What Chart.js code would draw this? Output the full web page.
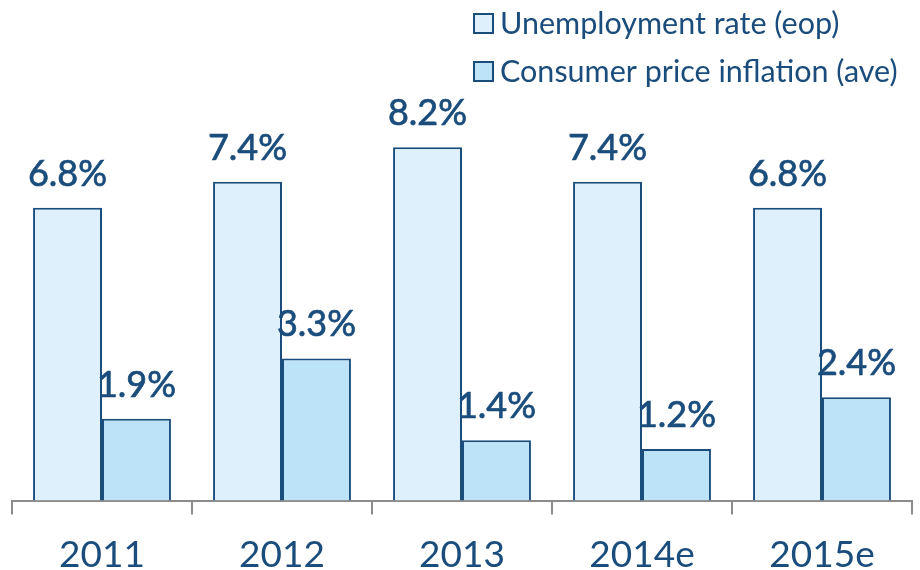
<!DOCTYPE html>
<html>
<head>
<meta charset="utf-8">
<script src="https://cdn.jsdelivr.net/npm/chart.js@4/dist/chart.umd.min.js"></script>
<style>
 html, body { margin:0; padding:0; background:#fff; }
 #wrap { width:920px; height:570px; position:relative; }
</style>
</head>
<body>
<div id="wrap"><canvas id="chart"></canvas></div>
<script>
const years = ["2011", "2012", "2013", "2014e", "2015e"]
const unemployment = [6.8, 7.4, 8.2, 7.4, 6.8]
const inflation = [1.9, 3.3, 1.4, 1.2, 2.4]
const seriesNames = ["Unemployment rate (eop)", "Consumer price inflation (ave)"]

const navy = "#1a4d7c"
const fills = ["#ddf0fc", "#bde3f8"]
const font = "Lato, 'Open Sans', sans-serif"

// value labels above each bar
const barLabels = {
 id: "barLabels",
 afterDatasetsDraw(chart){
  const ctx = chart.ctx
  ctx.save()
  ctx.font = "36px " + font
  ctx.fillStyle = navy
  ctx.strokeStyle = navy
  ctx.lineWidth = 0.7
  ctx.textAlign = "center"
  ctx.textBaseline = "alphabetic"
  chart.data.datasets.forEach((ds, i)=>{
   chart.getDatasetMeta(i).data.forEach((bar, j)=>{
    const txt = ds.data[j].toFixed(1) + "%"
    ctx.fillText(txt, bar.x, bar.y - 22)
    ctx.strokeText(txt, bar.x, bar.y - 22)
   })
  })
  ctx.restore()
 }
}

// stacked legend in the top right corner
const cornerLegend = {
 id: "cornerLegend",
 afterDraw(chart){
  const ctx = chart.ctx
  ctx.save()
  ctx.font = "30.5px " + font
  ctx.textBaseline = "middle"
  ctx.textAlign = "left"
  seriesNames.forEach((name, i)=>{
   const y = 24 + i * 48
   ctx.fillStyle = fills[i]
   ctx.fillRect(474, y - 10, 19, 19)
   ctx.strokeStyle = navy
   ctx.lineWidth = 2
   ctx.strokeRect(474, y - 10, 19, 19)
   ctx.fillStyle = navy
   ctx.fillText(name, 500, y)
  })
  ctx.restore()
 }
}

new Chart(document.getElementById("chart"), {
 type: "bar",
 data: {
  labels: years,
  datasets: [
   { label: seriesNames[0], data: unemployment, backgroundColor: fills[0], borderColor: navy, borderWidth: 2 },
   { label: seriesNames[1], data: inflation, backgroundColor: fills[1], borderColor: navy, borderWidth: 2 }
  ]
 },
 options: {
  responsive: true,
  maintainAspectRatio: false,
  animation: false,
  layout: { padding: { left: 12, right: 8, top: 0, bottom: -25 } },
  categoryPercentage: 0.766,
  barPercentage: 1,
  plugins: { legend: { display: false }, tooltip: { enabled: false } },
  scales: {
   x: {
    grid: { display: true, drawOnChartArea: false, drawTicks: true, tickLength: 14, color: "#8c8c8c", lineWidth: 2, offset: true },
    border: { display: true, color: "#8c8c8c", width: 2 },
    ticks: { color: navy, font: { family: font, size: 37 }, padding: 18 }
   },
   y: { display: false, min: 0, max: 11.62 }
  }
 },
 plugins: [barLabels, cornerLegend]
})
</script>
</body>
</html>
